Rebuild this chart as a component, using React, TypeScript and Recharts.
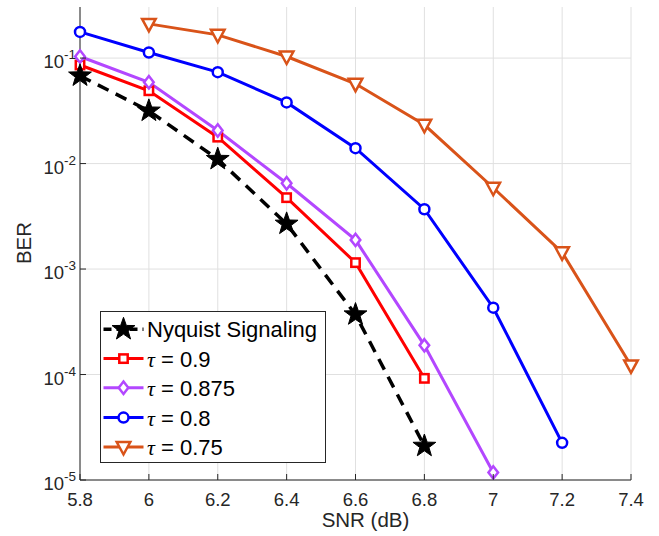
import React from 'react'
import {
  LineChart,
  Line,
  XAxis,
  YAxis,
  CartesianGrid,
  Legend,
  Label,
} from 'recharts'

const snr = [5.8, 6.0, 6.2, 6.4, 6.6, 6.8, 7.0, 7.2, 7.4]
const nyquist = [0.068, 0.0316, 0.011, 0.00268, 3.7e-4, 2.1e-5, null, null, null]
const tau09 = [0.086, 0.049, 0.0178, 0.00475, 1.15e-3, 9.2e-5, null, null, null]
const tau0875 = [0.1035, 0.059, 0.0206, 0.0065, 1.89e-3, 1.89e-4, 1.18e-5, null, null]
const tau08 = [0.177, 0.113, 0.0736, 0.038, 0.014, 3.69e-3, 4.3e-4, 2.25e-5, null]
const tau075 = [null, 0.211, 0.166, 0.1035, 0.057, 0.0233, 5.9e-3, 1.44e-3, 1.22e-4]

const xTicks = [5.8, 6, 6.2, 6.4, 6.6, 6.8, 7, 7.2, 7.4]
const yTicks = [1e-5, 1e-4, 1e-3, 1e-2, 1e-1]
const yExponents = ['-5', '-4', '-3', '-2', '-1']

const data = snr.map((x, i) => ({
  snr: x,
  nyquist: nyquist[i],
  tau09: tau09[i],
  tau0875: tau0875[i],
  tau08: tau08[i],
  tau075: tau075[i],
}))

const FONT = '"Liberation Sans", Arial, sans-serif'
const AXIS = '#262626'

type Shape = 'star' | 'square' | 'diamond' | 'circle' | 'triangle'

function starPoints(cx: number, cy: number, R: number) {
  const r = R * 0.4
  const pts: string[] = []
  for (let i = 0; i < 10; i++) {
    const a = ((-90 + i * 36) * Math.PI) / 180
    const rad = i % 2 === 0 ? R : r
    pts.push(`${cx + rad * Math.cos(a)},${cy + rad * Math.sin(a)}`)
  }
  return pts.join(' ')
}

function Marker({ shape, cx, cy, color }: { shape: Shape; cx: number; cy: number; color: string }) {
  const sw = 2.5
  switch (shape) {
    case 'star':
      return <polygon points={starPoints(cx, cy, 12)} fill="#000" stroke="#000" strokeWidth={1} />
    case 'square':
      return <rect x={cx - 4.2} y={cy - 4.2} width={8.4} height={8.4} fill="#fff" stroke={color} strokeWidth={sw} />
    case 'diamond':
      return (
        <polygon
          points={`${cx},${cy - 6.2} ${cx + 4.8},${cy} ${cx},${cy + 6.2} ${cx - 4.8},${cy}`}
          fill="#fff"
          stroke={color}
          strokeWidth={sw}
        />
      )
    case 'circle':
      return <circle cx={cx} cy={cy} r={5} fill="#fff" stroke={color} strokeWidth={sw} />
    case 'triangle':
      return (
        <polygon
          points={`${cx - 6.8},${cy - 5} ${cx + 6.8},${cy - 5} ${cx},${cy + 7.5}`}
          fill="#fff"
          stroke={color}
          strokeWidth={sw}
        />
      )
  }
  return null
}

const makeDot = (shape: Shape, color: string) => (props: any) => {
  const { cx, cy, index } = props
  if (cy == null || cx == null || props.value == null) return <g key={`e-${index}`} />
  return (
    <g key={`d-${index}`}>
      <Marker shape={shape} cx={cx} cy={cy} color={color} />
    </g>
  )
}

const series = [
  { key: 'nyquist', name: 'Nyquist Signaling', color: '#000000', shape: 'star' as Shape, dash: '12 8', width: 3.5 },
  { key: 'tau09', name: '0.9', color: '#ff0000', shape: 'square' as Shape, dash: undefined, width: 3 },
  { key: 'tau0875', name: '0.875', color: '#b347ff', shape: 'diamond' as Shape, dash: undefined, width: 3 },
  { key: 'tau08', name: '0.8', color: '#0000ff', shape: 'circle' as Shape, dash: undefined, width: 3 },
  { key: 'tau075', name: '0.75', color: '#d95319', shape: 'triangle' as Shape, dash: undefined, width: 3 },
]

// draw order: orange, blue, red, purple, black on top
const drawOrder = ['tau075', 'tau08', 'tau09', 'tau0875', 'nyquist']

function BottomTick({ x, y, payload }: any) {
  return (
    <g>
      <line x1={x} x2={x} y1={y} y2={y - 6} stroke={AXIS} />
      <text x={x} y={y + 26} textAnchor="middle" fill={AXIS} fontSize={18.5} fontFamily={FONT}>
        {payload.value}
      </text>
    </g>
  )
}

function TopTick({ x, y }: any) {
  return <line x1={x} x2={x} y1={y} y2={y + 6} stroke={AXIS} />
}

function LeftTick({ x, y, index }: any) {
  return (
    <g>
      <line x1={x} x2={x + 6} y1={y} y2={y} stroke={AXIS} />
      <text x={x - 4} y={y + 10} textAnchor="end" fill={AXIS} fontSize={18.5} fontFamily={FONT}>
        10
        <tspan dy={-9} fontSize={13.5}>
          {yExponents[index]}
        </tspan>
      </text>
    </g>
  )
}

function RightTick({ x, y }: any) {
  return <line x1={x} x2={x - 6} y1={y} y2={y} stroke={AXIS} />
}

function LegendBox() {
  const rowY = [18.3, 47.6, 76.8, 106.6, 136]
  return (
    <svg width={226} height={152} style={{ display: 'block' }}>
      <rect x={0.5} y={0.5} width={225} height={151} fill="#fff" stroke={AXIS} strokeWidth={1} />
      {series.map((s, i) => (
        <g key={s.key}>
          <line
            x1={3.5}
            x2={43.5}
            y1={rowY[i]}
            y2={rowY[i]}
            stroke={s.color}
            strokeWidth={s.width}
            strokeDasharray={s.dash ? '8 5' : undefined}
          />
          <Marker shape={s.shape} cx={23.5} cy={rowY[i]} color={s.color} />
          <text x={47} y={rowY[i] + 8} fontSize={22} fontFamily={FONT} fill="#000">
            {s.key === 'nyquist' ? (
              s.name
            ) : (
              <>
                <tspan fontFamily='"Liberation Serif", serif' fontStyle="italic">
                  τ
                </tspan>
                {` = ${s.name}`}
              </>
            )}
          </text>
        </g>
      ))}
    </svg>
  )
}

export default function App() {
  return (
    <div style={{ position: 'absolute', left: 0, top: 0, background: '#fff' }}>
      <LineChart width={659} height={536} data={data} margin={{ top: 7, right: 28, left: 20, bottom: 6 }}>
        <CartesianGrid stroke="#e0e0e0" strokeWidth={1} horizontalValues={yTicks} verticalValues={xTicks} />
        <XAxis
          dataKey="snr"
          type="number"
          domain={[5.8, 7.4]}
          ticks={xTicks}
          height={50}
          tickSize={0}
          tickMargin={0}
          tick={<BottomTick />}
          axisLine={{ stroke: AXIS }}
          tickLine={false}
          interval={0}
        >
          <Label
            content={(props: any) => {
              const vb = props.viewBox
              return (
                <text x={vb.x + vb.width / 2 + 10} y={vb.y + 47} textAnchor="middle" fill={AXIS} fontSize={20.5} fontFamily={FONT}>
                  SNR (dB)
                </text>
              )
            }}
          />
        </XAxis>
        <XAxis
          xAxisId="top"
          orientation="top"
          dataKey="snr"
          type="number"
          domain={[5.8, 7.4]}
          ticks={xTicks}
          height={0}
          tickSize={0}
          tick={<TopTick />}
          axisLine={{ stroke: AXIS }}
          tickLine={false}
          interval={0}
        />
        <YAxis
          scale="log"
          type="number"
          domain={[1e-5, 0.305]}
          allowDataOverflow
          ticks={yTicks}
          width={60}
          tickSize={0}
          tickMargin={0}
          tick={<LeftTick />}
          axisLine={{ stroke: AXIS }}
          tickLine={false}
          interval={0}
        >
          <Label
            content={() => {
              const cx = 23
              const cy = 243
              return (
                <text
                  x={cx}
                  y={cy}
                  transform={`rotate(-90 ${cx} ${cy})`}
                  textAnchor="middle"
                  dominantBaseline="central"
                  fill={AXIS}
                  fontSize={20.5}
                  fontFamily={FONT}
                >
                  BER
                </text>
              )
            }}
          />
        </YAxis>
        <YAxis
          yAxisId="right"
          orientation="right"
          scale="log"
          type="number"
          domain={[1e-5, 0.305]}
          allowDataOverflow
          ticks={yTicks}
          width={0}
          tickSize={0}
          tick={<RightTick />}
          axisLine={{ stroke: AXIS }}
          tickLine={false}
          interval={0}
        />
        <Legend
          layout="vertical"
          align="center"
          verticalAlign="middle"
          content={() => <LegendBox />}
          wrapperStyle={{ position: 'absolute', left: 100, top: 311, width: 'auto', bottom: 'auto', right: 'auto' }}
        />
        {drawOrder.map((k) => {
          const s = series.find((q) => q.key === k)!
          return (
            <Line
              key={s.key}
              dataKey={s.key}
              name={s.name}
              stroke={s.color}
              strokeWidth={s.width}
              strokeDasharray={s.dash}
              dot={makeDot(s.shape, s.color)}
              activeDot={false}
              isAnimationActive={false}
              type="linear"
            />
          )
        })}
      </LineChart>
    </div>
  )
}
